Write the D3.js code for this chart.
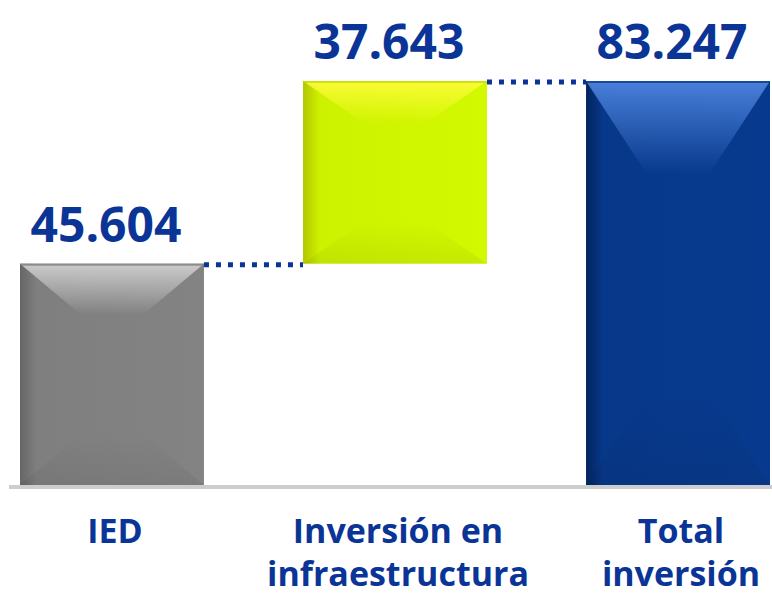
<!DOCTYPE html>
<html>
<head>
<meta charset="utf-8">
<script src="https://cdn.jsdelivr.net/npm/d3@7"></script>
<style>
	html, body { margin: 0; padding: 0; background: #ffffff; }
	svg { display: block; }
	text { font-family: 'Open Sans', 'Noto Sans', sans-serif; font-weight: 700; fill: #0a3596; }
</style>
</head>
<body>
<div id="chart"></div>
<script>
// waterfall data (miles de millones)
const categories = ['IED', 'Inversión en infraestructura', 'Total inversión'];
const categoryLines = [['IED'], ['Inversión en', 'infraestructura'], ['Total', 'inversión']];
const values = [45604, 37643, 83247];
const kinds = ['step', 'step', 'total'];

// base colour, top highlight, left shade
const barColors = [
	{ base: '#7f7f7f', light: '#cccccc', dark: '#666666' },
	{ base: '#cdf200', light: '#fbfb36', dark: '#b3c600' },
	{ base: '#07388a', light: '#4a80da', dark: '#03235c' }
];

const width = 772,
	height = 595,
	baseY = 485;

const fmt = d3.formatLocale({ decimal: ',', thousands: '.', grouping: [3], currency: ['', ''] }).format(',d');

// cumulative start / end of every bar
let running = 0;
const bars = categories.map(function(c, i) {
	let start = kinds[i] === 'total' ? 0 : running,
		end = kinds[i] === 'total' ? values[i] : running + values[i];
	running = end;
	return { cat: c, i: i, start: start, end: end, value: values[i] };
});

const x = d3.scaleBand()
	.domain(categories)
	.range([20, 770])
	.paddingInner(0.35)
	.paddingOuter(0);

const y = d3.scaleLinear()
	.domain([0, d3.max(bars, d => d.end)])
	.range([baseY, 81]);

const svg = d3.select('#chart').append('svg')
	.attr('width', width)
	.attr('height', height);

const defs = svg.append('defs');

bars.forEach(function(b) {
	let col = barColors[b.i];

	let side = defs.append('linearGradient')
		.attr('id', 'side' + b.i)
		.attr('x1', '0%').attr('y1', '0%').attr('x2', '100%').attr('y2', '0%');
	side.append('stop').attr('offset', '0%').attr('stop-color', col.dark);
	side.append('stop').attr('offset', '9%').attr('stop-color', col.base);
	side.append('stop').attr('offset', '100%').attr('stop-color', d3.color(col.base).brighter(0.08));

	let top = defs.append('linearGradient')
		.attr('id', 'top' + b.i)
		.attr('x1', '0%').attr('y1', '0%').attr('x2', '0%').attr('y2', '100%');
	top.append('stop').attr('offset', '0%').attr('stop-color', col.light).attr('stop-opacity', 1);
	top.append('stop').attr('offset', '100%').attr('stop-color', col.light).attr('stop-opacity', 0);

	let bottom = defs.append('linearGradient')
		.attr('id', 'bottom' + b.i)
		.attr('x1', '0%').attr('y1', '100%').attr('x2', '0%').attr('y2', '0%');
	bottom.append('stop').attr('offset', '0%').attr('stop-color', '#000000').attr('stop-opacity', 0.06);
	bottom.append('stop').attr('offset', '100%').attr('stop-color', '#000000').attr('stop-opacity', 0);
});

// baseline
svg.append('rect')
	.attr('x', 9)
	.attr('y', baseY)
	.attr('width', width - 9)
	.attr('height', 4)
	.attr('fill', '#cdcdcd');

const g = svg.selectAll('g.bar')
	.data(bars)
	.join('g')
	.attr('class', 'bar');

g.each(function(b) {
	let sel = d3.select(this),
		x0 = x(b.cat),
		w = x.bandwidth(),
		y0 = y(b.end),
		h = y(b.start) - y(b.end),
		ix = w * 0.33,
		iy = h * 0.23;

	sel.append('rect')
		.attr('x', x0).attr('y', y0)
		.attr('width', w).attr('height', h)
		.attr('fill', 'url(#side' + b.i + ')');

	sel.append('polygon')
		.attr('points', [[x0, y0], [x0 + w, y0], [x0 + w - ix, y0 + iy], [x0 + ix, y0 + iy]].join(' '))
		.attr('fill', 'url(#top' + b.i + ')');

	sel.append('polygon')
		.attr('points', [[x0, y0 + h], [x0 + w, y0 + h], [x0 + w - ix, y0 + h - iy], [x0 + ix, y0 + h - iy]].join(' '))
		.attr('fill', 'url(#bottom' + b.i + ')');

	// thin edge line on top
	sel.append('rect')
		.attr('x', x0).attr('y', y0)
		.attr('width', w).attr('height', 2)
		.attr('fill', d3.color(barColors[b.i].base).darker(0.3))
		.attr('opacity', 0.7);
});

// dotted connectors between bars
const links = bars.slice(0, -1).map(function(b, i) {
	return { from: b, to: bars[i + 1] };
});

svg.selectAll('line.link')
	.data(links)
	.join('line')
	.attr('class', 'link')
	.attr('x1', d => x(d.from.cat) + x.bandwidth())
	.attr('x2', d => x(d.to.cat))
	.attr('y1', d => y(d.from.end) + 1)
	.attr('y2', d => y(d.from.end) + 1)
	.attr('stroke', '#0a3596')
	.attr('stroke-width', 5)
	.attr('stroke-dasharray', '5,7');

// value labels
svg.selectAll('text.value')
	.data(bars)
	.join('text')
	.attr('class', 'value')
	.attr('x', d => x(d.cat) + x.bandwidth() / 2 - 6)
	.attr('y', d => y(d.end) - 22)
	.attr('text-anchor', 'middle')
	.style('font-size', '48px')
	.text(d => fmt(d.value));

// category labels
const cats = svg.selectAll('text.cat')
	.data(bars)
	.join('text')
	.attr('class', 'cat')
	.attr('text-anchor', 'middle')
	.style('font-size', '34px');

cats.selectAll('tspan')
	.data(d => categoryLines[d.i].map(t => ({ t: t, cx: x(d.cat) + x.bandwidth() / 2 })))
	.join('tspan')
	.attr('x', d => d.cx + 3)
	.attr('y', (d, k) => 543 + k * 43)
	.text(d => d.t);
</script>
</body>
</html>
